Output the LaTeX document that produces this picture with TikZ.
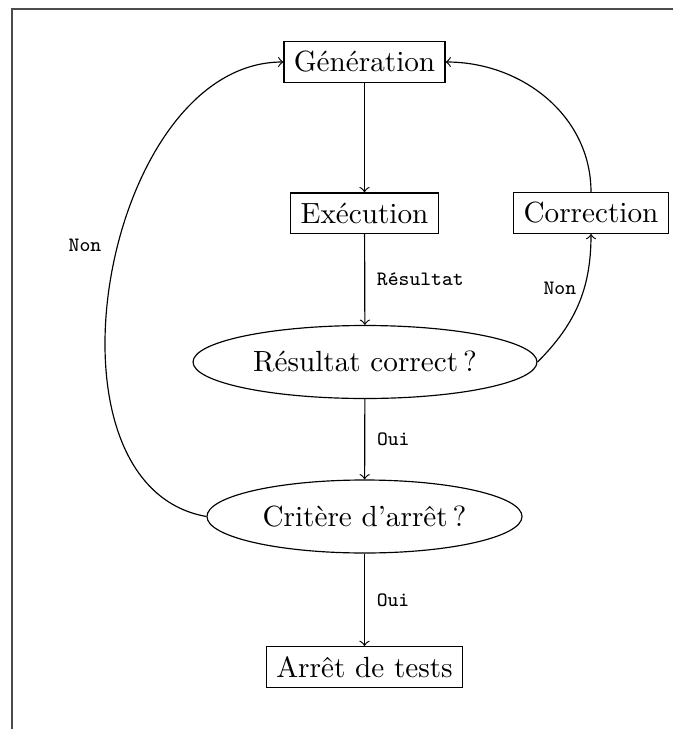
\documentclass[tikz,border=0pt]{standalone}
\usetikzlibrary{shapes.geometric}
\begin{document}
\begin{tikzpicture}[x=0.3425pt, y=-0.3425pt,
  stepbox/.style={draw, rectangle, minimum height=13.7pt},
  testbox/.style={draw, ellipse, inner sep=0pt, minimum height=25pt},
  flow/.style={->},
  lbl/.style={font=\ttfamily\scriptsize}]
  \useasboundingbox (0,0) rectangle (673,729);
  % page frame
  \draw[gray!60!black, line width=0.5pt] (12,729) -- (12,9) -- (673,9);

  \node[stepbox] (gen)  at (364.5,62)  {Génération};
  \node[stepbox] (exe)  at (364.5,213) {Exécution};
  \node[stepbox] (corr) at (591,213)   {Correction};
  \node[testbox, minimum width=117.8pt] (res)  at (365,362)   {Résultat correct\,?};
  \node[testbox, minimum width=107.9pt] (crit) at (364.5,516.5) {Critère d’arrêt\,?};
  \node[stepbox] (stop) at (364.5,667) {Arrêt de tests};

  \draw[flow] (gen) -- (exe);
  \draw[flow] (exe) -- node[lbl, right, inner sep=4pt] {Résultat} (res);
  \draw[flow] (res.east) to[out=45, in=-90] node[lbl, pos=0.62, left, inner sep=2.5pt] {Non} (corr.south);
  \draw[flow] (corr.north) to[out=90, in=0] (gen.east);
  \draw[flow] (res) -- node[lbl, right, inner sep=4pt] {Oui} (crit);
  \draw[flow] (crit) -- node[lbl, right, inner sep=4pt] {Oui} (stop);
  \draw[flow] (crit.west) to[out=170, in=180] node[lbl, pos=0.55, left, inner sep=5.5pt] {Non} (gen.west);
\end{tikzpicture}
\end{document}
